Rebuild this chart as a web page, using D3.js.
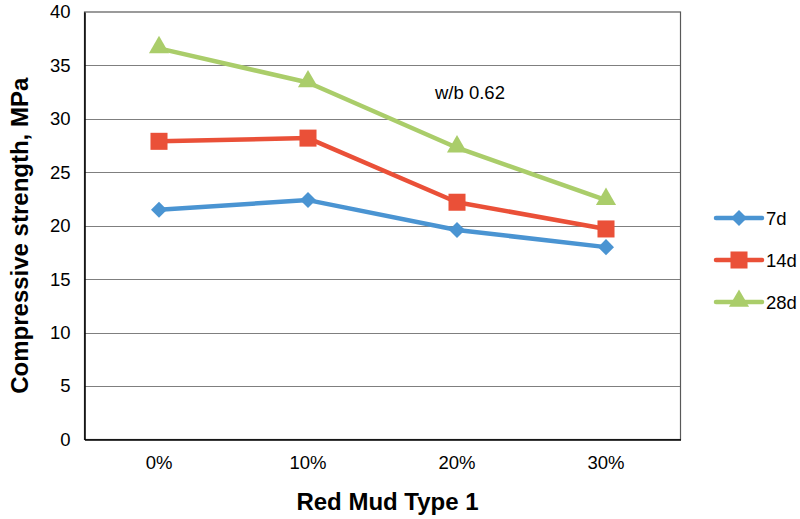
<!DOCTYPE html>
<html>
<head>
<meta charset="utf-8">
<script src="https://cdn.jsdelivr.net/npm/d3@7"></script>
<style>
  body { margin: 0; background: #fff; }
  svg { display: block; font-family: "Liberation Sans", Arial, sans-serif; }
</style>
</head>
<body>
<svg id="chart" width="800" height="519"></svg>
<script>
// Compressive strength by red mud replacement level
const categories = ["0%", "10%", "20%", "30%"];
const strength7d  = [21.5, 22.4, 19.6, 18.0];
const strength14d = [27.9, 28.2, 22.2, 19.7];
const strength28d = [36.6, 33.4, 27.3, 22.4];
const yTicks = [0, 5, 10, 15, 20, 25, 30, 35, 40];

const series = [
  { name: "7d",  values: strength7d,  color: "#4A94D2", marker: "diamond" },
  { name: "14d", values: strength14d, color: "#EA5038", marker: "square" },
  { name: "28d", values: strength28d, color: "#AACD6A", marker: "triangle" }
];

const labelFont = 18.5;
const titleFont = 24;

const svg = d3.select("#chart");
const plot = { left: 84.5, right: 680.5, top: 12, bottom: 439.5 };

const x = d3.scaleBand().domain(categories).range([plot.left, plot.right]);
const y = d3.scaleLinear().domain([0, 40]).range([plot.bottom, plot.top]);

// horizontal gridlines
svg.append("g").selectAll("line")
  .data(yTicks.filter(t => t > 0 && t < 40))
  .join("line")
  .attr("x1", plot.left).attr("x2", plot.right)
  .attr("y1", d => Math.round(y(d)) + 0.5).attr("y2", d => Math.round(y(d)) + 0.5)
  .attr("stroke", "#7f7f7f").attr("stroke-width", 1.2);

// plot frame
svg.append("rect")
  .attr("x", plot.left).attr("y", plot.top)
  .attr("width", plot.right - plot.left).attr("height", plot.bottom - plot.top)
  .attr("fill", "none").attr("stroke", "#595959").attr("stroke-width", 1.2);

// axes
const yAxis = d3.axisLeft(y).tickValues(yTicks).tickSize(0).tickPadding(14);
svg.append("g").attr("transform", `translate(${plot.left},0)`).call(yAxis)
  .call(g => g.select(".domain").attr("stroke", "#000").attr("stroke-width", 1.5))
  .call(g => g.selectAll("text").attr("font-size", labelFont).attr("fill", "#000")
    .attr("font-family", "Liberation Sans, Arial, sans-serif"));

const xAxis = d3.axisBottom(x).tickSize(0).tickPadding(16);
svg.append("g").attr("transform", `translate(0,${plot.bottom})`).call(xAxis)
  .call(g => g.select(".domain").attr("stroke", "#000").attr("stroke-width", 1.5))
  .call(g => g.selectAll("text").attr("font-size", labelFont).attr("fill", "#000")
    .attr("font-family", "Liberation Sans, Arial, sans-serif"));

// axis titles
svg.append("text")
  .attr("transform", `translate(28,${(plot.top + plot.bottom) / 2 + 10}) rotate(-90)`)
  .attr("text-anchor", "middle")
  .attr("font-size", titleFont).attr("font-weight", "bold")
  .text("Compressive strength, MPa");

svg.append("text")
  .attr("x", (plot.left + plot.right) / 2 + 5).attr("y", 510)
  .attr("text-anchor", "middle")
  .attr("font-size", titleFont).attr("font-weight", "bold")
  .text("Red Mud Type 1");

// annotation
svg.append("text")
  .attr("x", 435).attr("y", 99)
  .attr("font-size", labelFont)
  .text("w/b 0.62");

// marker shapes
const symbolFor = {
  diamond: d3.symbol().type(d3.symbolSquare).size(128),
  square: d3.symbol().type(d3.symbolSquare).size(290),
  triangle: d3.symbol().type(d3.symbolTriangle).size(175)
};
function drawMarker(g, s, cx, cy) {
  const p = g.append("path")
    .attr("d", symbolFor[s.marker]())
    .attr("fill", s.color);
  if (s.marker === "diamond") p.attr("transform", `translate(${cx},${cy}) rotate(45)`);
  else if (s.marker === "triangle") p.attr("transform", `translate(${cx},${cy - 1})`);
  else p.attr("transform", `translate(${cx},${cy})`);
}

const cx = c => x(c) + x.bandwidth() / 2;
const line = d3.line().x((d, i) => cx(categories[i])).y(d => y(d));

series.forEach(s => {
  const g = svg.append("g");
  g.append("path")
    .datum(s.values)
    .attr("d", line)
    .attr("fill", "none")
    .attr("stroke", s.color)
    .attr("stroke-width", 4.5)
    .attr("stroke-linejoin", "round")
    .attr("stroke-linecap", "round");
  s.values.forEach((v, i) => drawMarker(g, s, cx(categories[i]), y(v)));
});

// legend
const legendY = [218, 260, 302];
series.forEach((s, i) => {
  const g = svg.append("g");
  const ly = legendY[i];
  g.append("line")
    .attr("x1", 716).attr("x2", 762).attr("y1", ly).attr("y2", ly)
    .attr("stroke", s.color).attr("stroke-width", 4.5).attr("stroke-linecap", "round");
  drawMarker(g, s, 739, ly);
  g.append("text")
    .attr("x", 766).attr("y", ly + 6.5)
    .attr("font-size", labelFont)
    .text(s.name);
});
</script>
</body>
</html>
